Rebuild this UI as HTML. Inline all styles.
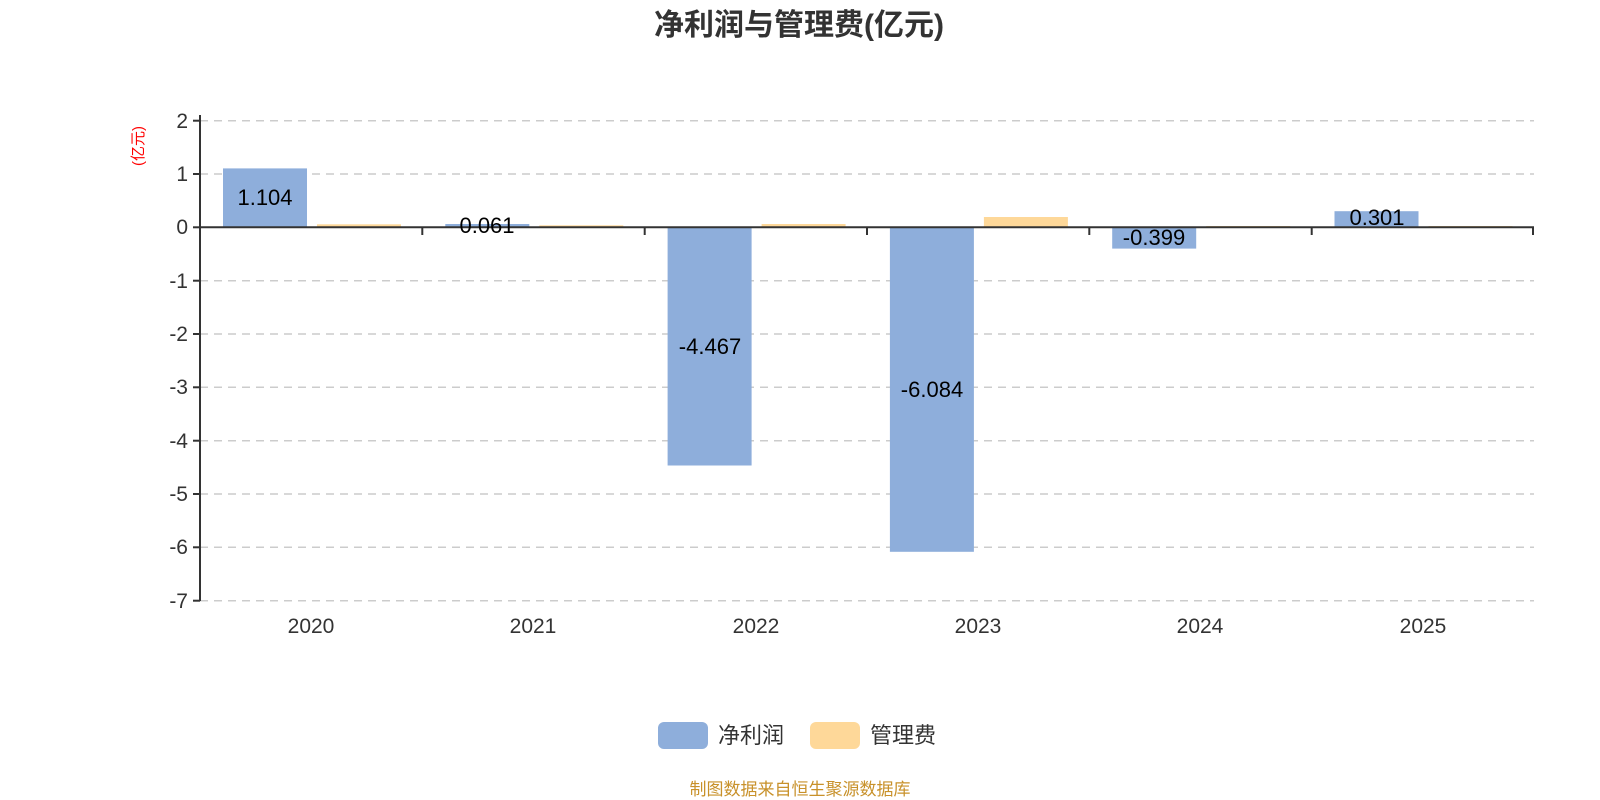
<!DOCTYPE html>
<html><head><meta charset="utf-8"><style>
html,body{margin:0;padding:0;background:#fff;}
svg{display:block;font-family:"Liberation Sans","Noto Sans CJK SC",sans-serif;}
</style></head><body>
<svg width="1600" height="800" viewBox="0 0 1600 800" xmlns="http://www.w3.org/2000/svg">
<text x="799" y="35" text-anchor="middle" font-size="30" font-weight="bold" fill="#333">净利润与管理费(亿元)</text>
<text transform="translate(143,146) rotate(-90)" text-anchor="middle" font-size="15" fill="#ff0000">(亿元)</text>
<g stroke="#ccc" stroke-width="1.5" stroke-dasharray="8,6">
<line x1="200" y1="120.7" x2="1534" y2="120.7"/>
<line x1="200" y1="174" x2="1534" y2="174"/>
<line x1="200" y1="280.7" x2="1534" y2="280.7"/>
<line x1="200" y1="334" x2="1534" y2="334"/>
<line x1="200" y1="387.3" x2="1534" y2="387.3"/>
<line x1="200" y1="440.7" x2="1534" y2="440.7"/>
<line x1="200" y1="494" x2="1534" y2="494"/>
<line x1="200" y1="547.3" x2="1534" y2="547.3"/>
<line x1="200" y1="600.7" x2="1534" y2="600.7"/>
</g>
<g font-size="21" fill="#333" text-anchor="end">
<text x="188" y="128">2</text><text x="188" y="181">1</text><text x="188" y="234">0</text>
<text x="188" y="288">-1</text><text x="188" y="341">-2</text><text x="188" y="394">-3</text>
<text x="188" y="448">-4</text><text x="188" y="501">-5</text><text x="188" y="554">-6</text><text x="188" y="608">-7</text>
</g>
<g fill="#8eaedb">
<rect x="223" y="168.4" width="84" height="58.9"/>
<rect x="445.3" y="224" width="84" height="3.3"/>
<rect x="667.6" y="227.3" width="84" height="238.2"/>
<rect x="889.9" y="227.3" width="84" height="324.5"/>
<rect x="1112.2" y="227.3" width="84" height="21.3"/>
<rect x="1334.5" y="211.2" width="84" height="16.1"/>
</g>
<g fill="#fed899">
<rect x="317" y="224.3" width="84" height="3"/>
<rect x="539.3" y="225.3" width="84" height="2"/>
<rect x="761.6" y="224" width="84" height="3.3"/>
<rect x="983.9" y="217" width="84" height="10.3"/>
<rect x="1206.2" y="226" width="84" height="1.3"/>
<rect x="1428.5" y="226" width="84" height="1.3"/>
</g>
<g stroke="#333" stroke-width="2">
<line x1="200" y1="115" x2="200" y2="601"/>
<line x1="193" y1="120.7" x2="200" y2="120.7"/><line x1="193" y1="174" x2="200" y2="174"/>
<line x1="193" y1="227.3" x2="200" y2="227.3"/><line x1="193" y1="280.7" x2="200" y2="280.7"/>
<line x1="193" y1="334" x2="200" y2="334"/><line x1="193" y1="387.3" x2="200" y2="387.3"/>
<line x1="193" y1="440.7" x2="200" y2="440.7"/><line x1="193" y1="494" x2="200" y2="494"/>
<line x1="193" y1="547.3" x2="200" y2="547.3"/><line x1="193" y1="600.7" x2="200" y2="600.7"/>
<line x1="200" y1="227.3" x2="1534" y2="227.3"/>
<line x1="422.3" y1="227.3" x2="422.3" y2="235"/><line x1="644.7" y1="227.3" x2="644.7" y2="235"/>
<line x1="867" y1="227.3" x2="867" y2="235"/><line x1="1089.3" y1="227.3" x2="1089.3" y2="235"/>
<line x1="1311.7" y1="227.3" x2="1311.7" y2="235"/><line x1="1533" y1="227.3" x2="1533" y2="235"/>
</g>
<g font-size="22" fill="#000" text-anchor="middle">
<text x="265" y="205">1.104</text>
<text x="487" y="233">0.061</text>
<text x="710" y="354">-4.467</text>
<text x="932" y="397">-6.084</text>
<text x="1154" y="245">-0.399</text>
<text x="1377" y="225">0.301</text>
</g>
<g font-size="21" fill="#333" text-anchor="middle">
<text x="311" y="633">2020</text><text x="533" y="633">2021</text><text x="756" y="633">2022</text>
<text x="978" y="633">2023</text><text x="1200" y="633">2024</text><text x="1423" y="633">2025</text>
</g>
<rect x="658" y="722" width="50" height="27" rx="6" fill="#8eaedb"/>
<text x="718" y="743" font-size="22" fill="#333">净利润</text>
<rect x="810" y="722" width="50" height="27" rx="6" fill="#fed899"/>
<text x="870" y="743" font-size="22" fill="#333">管理费</text>
<text x="800" y="795" text-anchor="middle" font-size="17" fill="#c8912a">制图数据来自恒生聚源数据库</text>
</svg>
</body></html>
